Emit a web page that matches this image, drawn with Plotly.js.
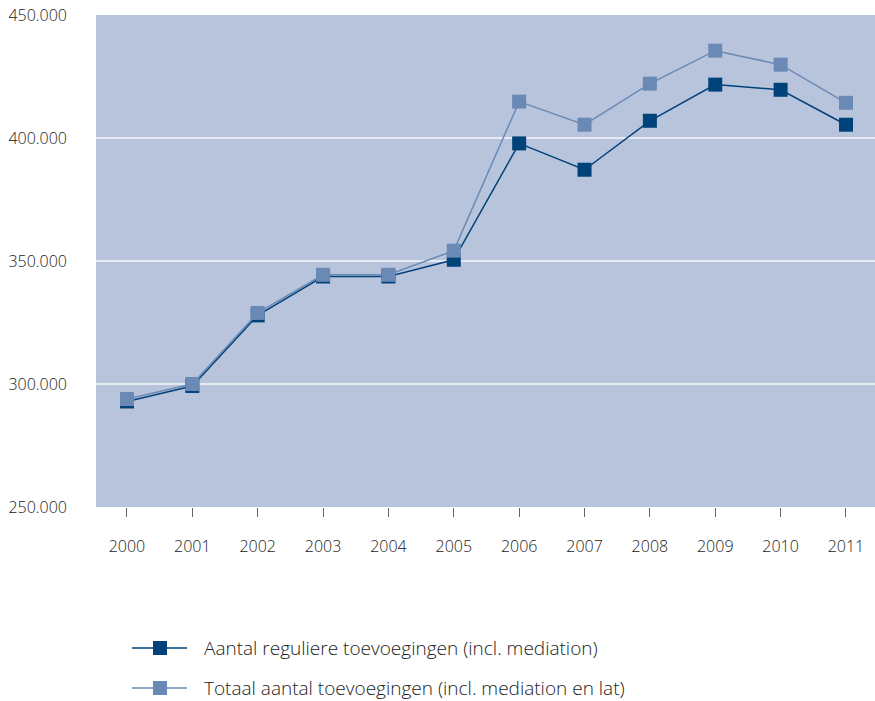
<!DOCTYPE html>
<html>
<head>
<meta charset="utf-8">
<script src="https://cdn.plot.ly/plotly-3.0.1.min.js"></script>
<style>
html,body{margin:0;padding:0;background:#fff;}
#chart{width:875px;height:701px;}
</style>
</head>
<body>
<div id="chart"></div>
<script>
const years = [2000, 2001, 2002, 2003, 2004, 2005, 2006, 2007, 2008, 2009, 2010, 2011];
const regulier = [292900, 299200, 327900, 343700, 343700, 350500, 397800, 387100, 407000, 421700, 419600, 405400];
const totaal = [293900, 300000, 328900, 344400, 344400, 354200, 414800, 405400, 422100, 435500, 429800, 414300];
const seriesNames = [
  "Aantal reguliere toevoegingen (incl. mediation)",
  "Totaal aantal toevoegingen (incl. mediation en lat)"
];
const yTicks = [250000, 300000, 350000, 400000, 450000];

const seriesColors = ["#00427a", "#6a8ab5"];
const seriesValues = [regulier, totaal];

const W = 875, H = 701;
const M = {l: 96, r: 0, t: 15, b: 194};
const pw = W - M.l - M.r, ph = H - M.t - M.b;
const textColor = "#222222";

const traces = seriesValues.map((vals, i) => ({
  x: years, y: vals, name: seriesNames[i], type: "scatter", mode: "lines+markers",
  showlegend: false,
  line: {color: seriesColors[i], width: 1.5},
  marker: {symbol: "square", size: 14, color: seriesColors[i], line: {width: 0}}
}));

// custom legend (line + square + label), placed in paper coordinates
const px = x => (x - M.l) / pw;
const py = y => (H - M.b - y) / ph;
const shapes = [];
const annotations = [];
const legendRows = [648, 688];
seriesNames.forEach((name, i) => {
  const yc = legendRows[i];
  shapes.push({type: "line", xref: "paper", yref: "paper",
    x0: px(132), x1: px(187), y0: py(yc), y1: py(yc),
    line: {color: seriesColors[i], width: 1.5}});
  shapes.push({type: "rect", xref: "paper", yref: "paper",
    x0: px(153), x1: px(167), y0: py(yc - 7), y1: py(yc + 7),
    fillcolor: seriesColors[i], line: {width: 0}});
  annotations.push({xref: "paper", yref: "paper", x: px(202), y: py(yc),
    xanchor: "left", yanchor: "middle", showarrow: false, text: name,
    font: {size: 19, color: textColor, weight: 300}});
});

const layout = {
  width: W, height: H,
  margin: {l: M.l, r: M.r, t: M.t, b: M.b, pad: 0},
  paper_bgcolor: "#ffffff",
  plot_bgcolor: "#b8c4dc",
  separators: ",.",
  font: {family: "Open Sans, sans-serif", size: 16, color: textColor, weight: 300},
  showlegend: false,
  shapes: shapes,
  annotations: annotations,
  xaxis: {
    range: [1999.526, 2011.444],
    tickvals: years,
    ticktext: years.map(String),
    ticks: "outside", ticklen: 9, tickwidth: 1, tickcolor: "#666666",
    ticklabelstandoff: 16,
    showgrid: false, zeroline: false, showline: false,
    tickfont: {size: 16, color: textColor, weight: 300}
  },
  yaxis: {
    range: [250000, 450000],
    tickvals: yTicks,
    tickformat: ",d",
    ticks: "",
    ticklabelstandoff: 28,
    showgrid: true, gridcolor: "#e6eaf3", gridwidth: 2,
    zeroline: false, showline: false,
    tickfont: {size: 16, color: textColor, weight: 300}
  }
};

Plotly.newPlot("chart", traces, layout, {displayModeBar: false, staticPlot: true});
</script>
</body>
</html>
